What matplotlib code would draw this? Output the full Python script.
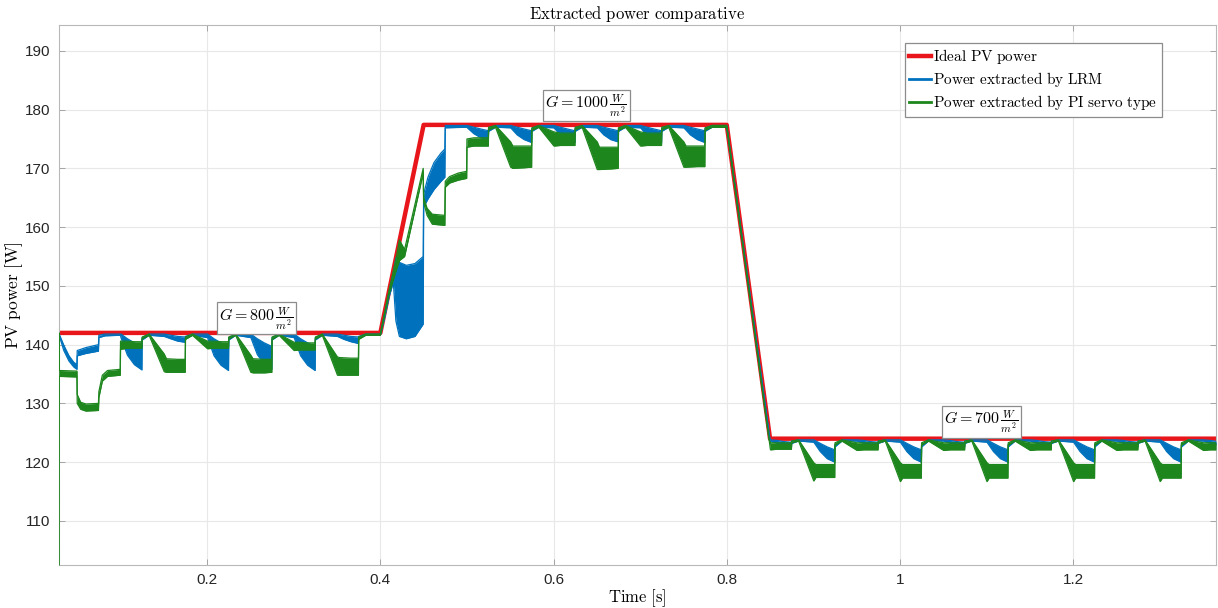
import numpy as np
import matplotlib
matplotlib.use("Agg")
import matplotlib.pyplot as plt

plt.rcParams["font.family"] = ["Liberation Sans", "DejaVu Sans"]
plt.rcParams["mathtext.fontset"] = "cm"

# --- ideal PV power (MPP of the irradiance profile) ---
ideal_t = [0.0289, 0.40, 0.45, 0.80, 0.85, 1.365]
ideal_p = [142.0, 142.0, 177.4, 177.4, 124.0, 124.0]

# --- power extracted by LRM: ripple band (lower / upper envelope) ---
lrm_t = [
    0.0289, 0.0345, 0.0405, 0.0460, 0.0497, 0.0500, 0.0600, 0.0745, 0.0750, 0.0820, 0.1000,
    0.1005, 0.1080, 0.1160, 0.1247, 0.1250, 0.1330,
    0.1505, 0.1580, 0.1660, 0.1747, 0.1750, 0.1830,
    0.2005, 0.2080, 0.2160, 0.2247, 0.2250, 0.2330,
    0.2505, 0.2580, 0.2660, 0.2747, 0.2750, 0.2830,
    0.3005, 0.3080, 0.3160, 0.3247, 0.3250, 0.3330,
    0.3505, 0.3580, 0.3660, 0.3747, 0.3750, 0.3830,
    0.4000, 0.4050, 0.4100, 0.4150, 0.4180, 0.4220, 0.4300, 0.4400, 0.4495,
    0.4500, 0.4550, 0.4620, 0.4700, 0.4745, 0.4750, 0.5000,
    0.5005, 0.5080, 0.5160, 0.5247, 0.5250, 0.5330,
    0.5505, 0.5580, 0.5660, 0.5747, 0.5750, 0.5830,
    0.6005, 0.6080, 0.6160, 0.6247, 0.6250, 0.6330,
    0.6505, 0.6580, 0.6660, 0.6747, 0.6750, 0.6830,
    0.7005, 0.7080, 0.7160, 0.7247, 0.7250, 0.7330,
    0.7505, 0.7580, 0.7660, 0.7747, 0.7750, 0.7830,
    0.8000, 0.8500,
    0.8505, 0.8580, 0.8660, 0.8747, 0.8750, 0.8830,
    0.9005, 0.9080, 0.9160, 0.9247, 0.9250, 0.9330,
    0.9505, 0.9580, 0.9660, 0.9747, 0.9750, 0.9830,
    1.0005, 1.0080, 1.0160, 1.0247, 1.0250, 1.0330,
    1.0505, 1.0580, 1.0660, 1.0747, 1.0750, 1.0830,
    1.1005, 1.1080, 1.1160, 1.1247, 1.1250, 1.1330,
    1.1505, 1.1580, 1.1660, 1.1747, 1.1750, 1.1830,
    1.2005, 1.2080, 1.2160, 1.2247, 1.2250, 1.2330,
    1.2505, 1.2580, 1.2660, 1.2747, 1.2750, 1.2830,
    1.3005, 1.3080, 1.3160, 1.3247, 1.3250, 1.3330,
    1.3505, 1.3580, 1.3650,
]
lrm_lo = [
    141.7, 139.0, 137.2, 136.2, 135.8, 138.1, 138.5, 138.9, 141.2, 141.5, 141.6,
    141.2, 138.2, 136.6, 135.7, 140.8, 141.6,
    141.4, 141.0, 140.6, 140.4, 141.0, 141.6,
    141.2, 138.1, 136.5, 135.6, 140.8, 141.6,
    141.2, 138.3, 136.7, 135.8, 140.8, 141.6,
    141.2, 138.1, 136.5, 135.6, 140.8, 141.6,
    141.4, 140.9, 140.5, 140.2, 141.0, 141.6,
    141.6, 144.6, 148.1, 150.6, 144.0, 141.4, 141.0, 141.4, 143.5,
    163.4, 164.8, 166.4, 167.8, 168.5, 176.9, 177.0,
    176.9, 175.9, 175.2, 174.8, 176.3, 177.0,
    176.9, 175.7, 174.9, 174.4, 176.3, 177.0,
    176.9, 175.7, 174.9, 174.4, 176.3, 177.0,
    176.9, 175.7, 174.9, 174.5, 176.3, 177.0,
    176.9, 175.6, 174.8, 174.3, 176.3, 177.0,
    176.9, 175.7, 174.9, 174.4, 176.3, 177.0,
    177.0, 123.6,
    123.6, 123.2, 122.9, 122.6, 123.2, 123.6,
    123.4, 121.8, 120.6, 120.0, 122.6, 123.6,
    123.6, 123.2, 122.9, 122.6, 123.2, 123.6,
    123.4, 121.8, 120.6, 120.0, 122.6, 123.6,
    123.6, 123.2, 122.9, 122.6, 123.2, 123.6,
    123.4, 121.8, 120.6, 120.0, 122.6, 123.6,
    123.6, 123.2, 122.9, 122.6, 123.2, 123.6,
    123.4, 121.8, 120.6, 120.0, 122.6, 123.6,
    123.6, 123.2, 122.9, 122.6, 123.2, 123.6,
    123.4, 121.8, 120.6, 120.0, 122.6, 123.6,
    123.6, 123.2, 122.95,
]
lrm_hi = [
    141.9, 139.9, 138.1, 137.0, 136.6, 139.0, 139.5, 140.0, 141.6, 141.8, 141.8,
    141.8, 141.0, 140.3, 139.7, 141.2, 141.8,
    141.8, 141.6, 141.4, 141.3, 141.4, 141.8,
    141.8, 141.0, 140.3, 139.7, 141.2, 141.8,
    141.8, 141.0, 140.3, 139.7, 141.2, 141.8,
    141.8, 141.0, 140.3, 139.7, 141.2, 141.8,
    141.8, 141.6, 141.4, 141.3, 141.4, 141.8,
    141.8, 145.3, 148.9, 152.3, 154.8, 154.0, 153.5, 153.8, 155.0,
    165.6, 168.5, 171.0, 172.6, 173.3, 177.3, 177.3,
    177.3, 177.0, 176.7, 176.4, 176.8, 177.3,
    177.3, 177.0, 176.7, 176.4, 176.8, 177.3,
    177.3, 177.0, 176.7, 176.4, 176.8, 177.3,
    177.3, 177.0, 176.7, 176.4, 176.8, 177.3,
    177.3, 177.0, 176.7, 176.4, 176.8, 177.3,
    177.3, 177.0, 176.7, 176.4, 176.8, 177.3,
    177.3, 123.8,
    123.8, 123.7, 123.5, 123.4, 123.6, 123.8,
    123.8, 123.2, 122.6, 122.1, 123.0, 123.8,
    123.8, 123.7, 123.5, 123.4, 123.6, 123.8,
    123.8, 123.2, 122.6, 122.1, 123.0, 123.8,
    123.8, 123.7, 123.5, 123.4, 123.6, 123.8,
    123.8, 123.2, 122.6, 122.1, 123.0, 123.8,
    123.8, 123.7, 123.5, 123.4, 123.6, 123.8,
    123.8, 123.2, 122.6, 122.1, 123.0, 123.8,
    123.8, 123.7, 123.5, 123.4, 123.6, 123.8,
    123.8, 123.2, 122.6, 122.1, 123.0, 123.8,
    123.8, 123.7, 123.55,
]

# --- power extracted by PI servo type: ripple band ---
pi_t = [
    0.0285, 0.0289, 0.0292, 0.0497, 0.0500, 0.0540, 0.0600, 0.0745, 0.0750, 0.0790, 0.0850, 0.0997,
    0.1000, 0.1080, 0.1160, 0.1247, 0.1250, 0.1330,
    0.1505, 0.1530, 0.1660, 0.1747, 0.1750, 0.1830,
    0.2005, 0.2080, 0.2160, 0.2247, 0.2250, 0.2330,
    0.2505, 0.2530, 0.2660, 0.2747, 0.2750, 0.2830,
    0.3005, 0.3080, 0.3160, 0.3247, 0.3250, 0.3330,
    0.3505, 0.3530, 0.3660, 0.3747, 0.3750, 0.3830,
    0.4000, 0.4100, 0.4180, 0.4220, 0.4280, 0.4495,
    0.4500, 0.4540, 0.4600, 0.4745, 0.4750, 0.4800, 0.4900, 0.4997,
    0.5000, 0.5080, 0.5160, 0.5247, 0.5250, 0.5330,
    0.5505, 0.5530, 0.5660, 0.5747, 0.5750, 0.5830,
    0.6005, 0.6080, 0.6160, 0.6247, 0.6250, 0.6330,
    0.6505, 0.6530, 0.6660, 0.6747, 0.6750, 0.6830,
    0.7005, 0.7080, 0.7160, 0.7247, 0.7250, 0.7330,
    0.7505, 0.7530, 0.7660, 0.7747, 0.7750, 0.7830,
    0.8000, 0.8490,
    0.8505, 0.8580, 0.8660, 0.8747, 0.8750, 0.8830,
    0.9005, 0.9030, 0.9160, 0.9247, 0.9250, 0.9330,
    0.9505, 0.9580, 0.9660, 0.9747, 0.9750, 0.9830,
    1.0005, 1.0030, 1.0160, 1.0247, 1.0250, 1.0330,
    1.0505, 1.0580, 1.0660, 1.0747, 1.0750, 1.0830,
    1.1005, 1.1030, 1.1160, 1.1247, 1.1250, 1.1330,
    1.1505, 1.1580, 1.1660, 1.1747, 1.1750, 1.1830,
    1.2005, 1.2030, 1.2160, 1.2247, 1.2250, 1.2330,
    1.2505, 1.2580, 1.2660, 1.2747, 1.2750, 1.2830,
    1.3005, 1.3030, 1.3160, 1.3247, 1.3250, 1.3330,
    1.3505, 1.3580, 1.3650,
]
pi_lo = [
    102.0, 102.0, 134.6, 134.5, 130.0, 129.0, 128.7, 128.8, 131.0, 133.8, 134.6, 134.8,
    139.2, 139.4, 139.4, 139.4, 141.0, 141.6,
    135.4, 135.3, 135.3, 135.3, 140.9, 141.6,
    139.3, 139.4, 139.4, 139.4, 141.0, 141.6,
    135.3, 135.2, 135.2, 135.3, 140.9, 141.6,
    139.0, 139.1, 139.1, 139.1, 141.0, 141.6,
    134.8, 134.8, 134.8, 134.8, 140.9, 141.6,
    141.6, 148.6, 152.5, 154.3, 155.0, 169.2,
    164.2, 162.0, 160.5, 160.3, 166.8, 167.5, 168.0, 168.3,
    173.6, 173.8, 173.8, 173.8, 176.6, 177.0,
    170.2, 170.0, 170.1, 170.2, 176.5, 177.0,
    173.8, 173.9, 173.9, 173.9, 176.6, 177.0,
    169.8, 169.8, 169.9, 170.0, 176.5, 177.0,
    173.8, 173.9, 173.9, 173.9, 176.6, 177.0,
    170.2, 170.2, 170.3, 170.3, 176.5, 177.0,
    177.0, 123.6,
    122.1, 122.2, 122.2, 122.2, 123.3, 123.6,
    116.8, 117.4, 117.4, 117.4, 122.9, 123.6,
    122.0, 122.1, 122.1, 122.1, 123.3, 123.6,
    116.7, 117.3, 117.3, 117.3, 122.9, 123.6,
    122.0, 122.1, 122.1, 122.1, 123.3, 123.6,
    116.7, 117.3, 117.3, 117.3, 122.9, 123.6,
    122.0, 122.1, 122.1, 122.1, 123.3, 123.6,
    116.7, 117.3, 117.3, 117.3, 122.9, 123.6,
    122.0, 122.1, 122.1, 122.1, 123.3, 123.6,
    116.7, 117.3, 117.3, 117.3, 122.9, 123.6,
    122.0, 122.1, 122.1,
]
pi_hi = [
    102.0, 142.0, 135.6, 135.5, 131.5, 130.2, 129.9, 130.0, 132.0, 134.8, 135.6, 135.8,
    140.6, 140.6, 140.5, 140.5, 141.3, 141.8,
    138.4, 137.6, 137.5, 137.5, 141.3, 141.8,
    140.6, 140.6, 140.5, 140.5, 141.3, 141.8,
    138.2, 137.6, 137.5, 137.5, 141.3, 141.8,
    140.4, 140.4, 140.3, 140.3, 141.3, 141.8,
    137.9, 137.8, 137.7, 137.7, 141.3, 141.8,
    141.8, 149.2, 154.5, 157.8, 156.2, 170.0,
    165.0, 163.2, 162.2, 162.0, 167.8, 168.6, 169.2, 169.5,
    175.0, 175.2, 175.2, 175.2, 177.0, 177.3,
    174.5, 173.8, 173.8, 173.8, 176.9, 177.3,
    176.2, 176.0, 176.0, 176.0, 177.0, 177.3,
    174.5, 173.6, 173.6, 173.6, 176.9, 177.3,
    176.2, 176.0, 176.0, 176.0, 177.0, 177.3,
    174.5, 173.8, 173.8, 173.8, 176.9, 177.3,
    177.3, 123.8,
    123.3, 123.3, 123.3, 123.3, 123.6, 123.8,
    119.9, 119.6, 119.6, 119.6, 123.3, 123.8,
    123.3, 123.3, 123.3, 123.3, 123.6, 123.8,
    119.9, 119.6, 119.6, 119.6, 123.3, 123.8,
    123.3, 123.3, 123.3, 123.3, 123.6, 123.8,
    119.9, 119.6, 119.6, 119.6, 123.3, 123.8,
    123.3, 123.3, 123.3, 123.3, 123.6, 123.8,
    119.9, 119.6, 119.6, 119.6, 123.3, 123.8,
    123.3, 123.3, 123.3, 123.3, 123.6, 123.8,
    119.9, 119.6, 119.6, 119.6, 123.3, 123.8,
    123.3, 123.3, 123.3,
]

# --- irradiance labels ---
irr_text = [r"$G = 800\,\frac{W}{m^2}$", r"$G = 1000\,\frac{W}{m^2}$", r"$G = 700\,\frac{W}{m^2}$"]
irr_t = [0.257, 0.638, 1.094]
irr_p = [144.5, 180.7, 126.9]

RED, BLUE, GREEN = "#e8161b", "#0072bd", "#1d861d"

fig = plt.figure(figsize=(12.18, 6.08), dpi=100)
ax = fig.add_axes([0.0484, 0.0707, 0.9500, 0.8882])

ax.plot(ideal_t, ideal_p, color=RED, lw=3.2, zorder=2, label=r"$\mathrm{Ideal\ PV\ power}$")

ax.fill_between(lrm_t, lrm_lo, lrm_hi, color=BLUE, lw=0, zorder=3)
ax.plot(lrm_t, lrm_lo, color=BLUE, lw=0.9, zorder=3)
ax.plot(lrm_t, lrm_hi, color=BLUE, lw=0.9, zorder=3, label=r"$\mathrm{Power\ extracted\ by\ LRM}$")

ax.fill_between(pi_t, pi_lo, pi_hi, color=GREEN, lw=0, zorder=4)
ax.plot(pi_t, pi_lo, color=GREEN, lw=0.9, zorder=4)
ax.plot(pi_t, pi_hi, color=GREEN, lw=0.9, zorder=4,
        label=r"$\mathrm{Power\ extracted\ by\ PI\ servo\ type}$")

for s, x, y in zip(irr_text, irr_t, irr_p):
    ax.text(x, y, s, ha="center", va="center", fontsize=11.5, zorder=6,
            bbox=dict(boxstyle="square,pad=0.15", fc="white", ec="#8c8c8c", lw=0.9))

ax.set_xlim(0.0289, 1.365)
ax.set_ylim(102.5, 194.4)
ax.set_xticks([0.2, 0.4, 0.6, 0.8, 1.0, 1.2])
ax.set_xticklabels(["0.2", "0.4", "0.6", "0.8", "1", "1.2"])
ax.set_yticks(np.arange(110, 191, 10))
ax.tick_params(direction="in", length=4, width=0.6, color="#9a9a9a", labelsize=11,
               top=True, right=True, labelcolor="#262626", pad=6)
ax.grid(True, color="#e8e8e8", lw=0.8)
ax.set_axisbelow(True)
for sp in ax.spines.values():
    sp.set_color("#b8b8b8")
    sp.set_linewidth(0.8)

ax.set_title(r"$\mathrm{Extracted\ power\ comparative}$", fontsize=12, pad=4)
ax.set_xlabel(r"$\mathrm{Time\ [s]}$", fontsize=12, labelpad=0)
ax.set_ylabel(r"$\mathrm{PV\ power\ [W]}$", fontsize=12.5)
ax.yaxis.set_label_coords(-0.029, 0.5)

leg = ax.legend(loc="upper right", bbox_to_anchor=(0.953, 0.967), fontsize=11,
                handlelength=1.4, handletextpad=0.15, borderpad=0.3, labelspacing=0.25,
                fancybox=False, framealpha=1, edgecolor="#8c8c8c", borderaxespad=0)
leg.get_frame().set_linewidth(0.9)
for h in leg.get_lines():
    h.set_linewidth(2.0)
leg.get_lines()[0].set_linewidth(3.2)

fig.savefig("out.png", dpi=100)
